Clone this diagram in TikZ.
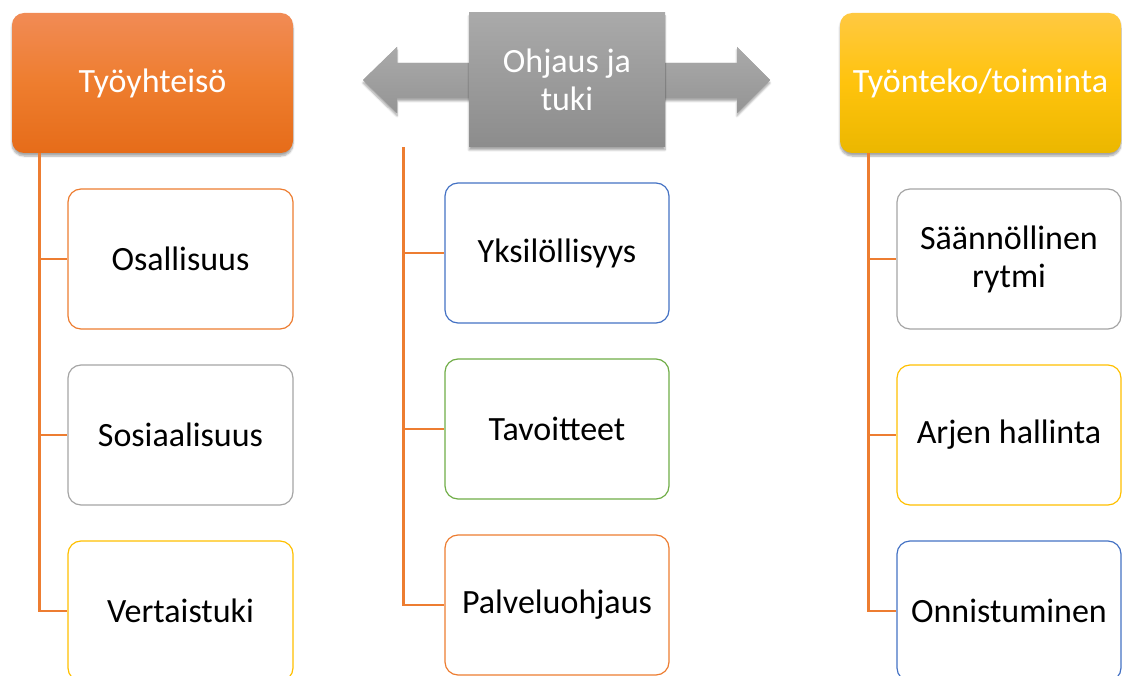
\documentclass[tikz,border=0pt]{standalone}
\usepackage{fontspec}
\setmainfont{Carlito}
\usetikzlibrary{positioning}
\usetikzlibrary{shadows.blur}
\definecolor{orangeA}{HTML}{ED7D31}
\definecolor{orangeTop}{HTML}{F18B55}
\definecolor{orangeBot}{HTML}{E66C19}
\definecolor{greyA}{HTML}{A5A5A5}
\definecolor{goldA}{HTML}{FFC000}
\definecolor{goldTop}{HTML}{FFC941}
\definecolor{goldBot}{HTML}{EBB700}
\definecolor{blueA}{HTML}{4472C4}
\definecolor{greenA}{HTML}{70AD47}
\def\bigtext{\fontsize{34}{38}\selectfont}

\begin{document}
\begin{tikzpicture}[x=1pt,y=-1pt,
	  head node/.style={rectangle,rounded corners=12pt,minimum width=281pt,minimum height=140pt,
	    inner sep=0pt,align=center,text=white,font=\bigtext,
	    blur shadow={shadow xshift=0pt,shadow yshift=-3pt,shadow blur steps=6,shadow opacity=35}},
	  item node/.style={rectangle,draw,rounded corners=13pt,line width=1.2pt,fill=white,
	    minimum width=225pt,minimum height=140pt,inner sep=0pt,align=center,font=\bigtext},
	  branch/.style={draw=orangeA,line width=2.8pt}]

	  \useasboundingbox (0,0) rectangle (1122,676);
	  \clip (0,0) rectangle (1122,676);

	  % headers
	  \node[head node, top color=orangeTop, bottom color=orangeBot, middle color=orangeA!95!orange] (tyo) at (152.5,83) {Työyhteisö};
	  \node[head node, top color=goldTop, bottom color=goldBot, middle color=goldA!95!white] (toim) at (980.5,83) {Työnteko/toiminta};

	  \path[fill=greyA, top color=greyA!95, bottom color=greyA!90!black,
	    blur shadow={shadow xshift=0pt,shadow yshift=-3pt,shadow blur steps=6,shadow opacity=35}]
	    (363,80) -- (397,47) -- (397,63) -- (737,63) -- (737,47) -- (770,80)
	    -- (737,113) -- (737,98) -- (397,98) -- (397,113) -- cycle;
	  \node[head node, rounded corners=0pt, minimum width=196pt, minimum height=134pt,
	    top color=greyA!95, bottom color=greyA!85!black] (ohj) at (567,80) {Ohjaus ja\\tuki};

	  % items
	  \node[item node, draw=orangeA] (osal) at (180.5,259) {Osallisuus};
	  \node[item node, draw=greyA]   (sosi) at (180.5,435) {Sosiaalisuus};
	  \node[item node, draw=goldA]   (vert) at (180.5,611) {Vertaistuki};

	  \node[item node, draw=blueA, minimum width=224pt]   (yksi) at (557,253) {Yksilöllisyys};
	  \node[item node, draw=greenA, minimum width=224pt]  (tavo) at (557,429) {Tavoitteet};
	  \node[item node, draw=orangeA, minimum width=224pt] (palv) at (557,605) {Palveluohjaus};

	  \node[item node, draw=greyA, minimum width=224pt] (saan) at (1009,259) {Säännöllinen\\rytmi};
	  \node[item node, draw=goldA, minimum width=224pt] (arje) at (1009,435) {Arjen hallinta};
	  \node[item node, draw=blueA, minimum width=224pt] (onni) at (1009,611) {Onnistuminen};

	  \coordinate (tyoTop) at ([xshift=28pt]tyo.south west);
	  \coordinate (ohjTop) at ([xshift=-65pt]ohj.south west);
	  \coordinate (toimTop) at ([xshift=29pt]toim.south west);

	  \draw[branch] (tyoTop) |- (osal);
	  \draw[branch] (tyoTop) |- (sosi);
	  \draw[branch] (tyoTop) |- (vert);
	  \draw[branch] (ohjTop) |- (yksi);
	  \draw[branch] (ohjTop) |- (tavo);
	  \draw[branch] (ohjTop) |- (palv);
	  \draw[branch] (toimTop) |- (saan);
	  \draw[branch] (toimTop) |- (arje);
	  \draw[branch] (toimTop) |- (onni);
	\end{tikzpicture}
\end{document}
